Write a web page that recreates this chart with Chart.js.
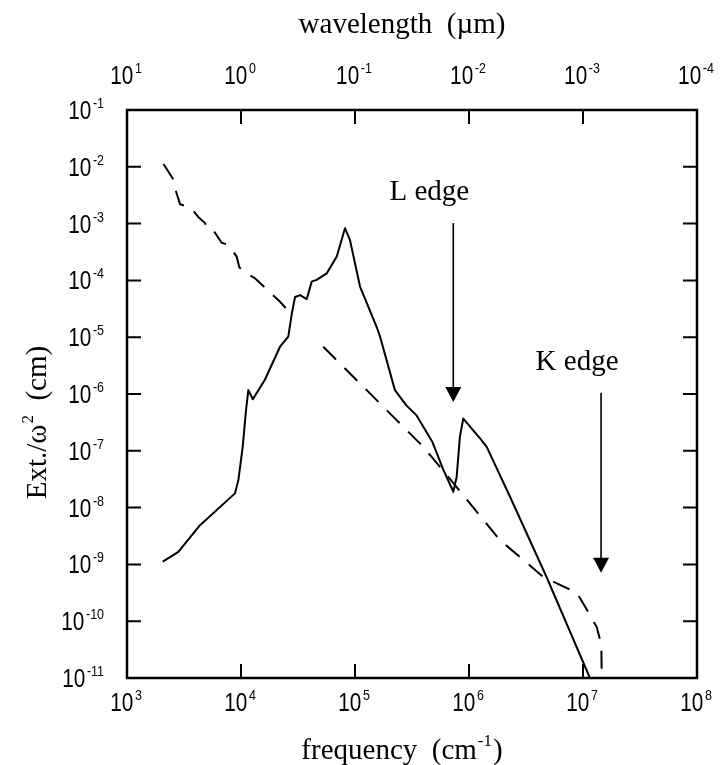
<!DOCTYPE html>
<html>
<head>
<meta charset="utf-8">
<script src="https://cdn.jsdelivr.net/npm/chart.js@4.4.1/dist/chart.umd.min.js"></script>
<style>
  html, body { margin: 0; padding: 0; background: #fff; }
</style>
</head>
<body>
<canvas id="extChart" width="723" height="765"></canvas>
<script>
// Solid curve: frequency (cm^-1) vs Ext./w^2 (cm)
const solidFreq = [2.06e3, 2.82e3, 4.37e3, 8.85e3, 9.5e3, 1.035e4, 1.107e4, 1.16e4, 1.27e4, 1.62e4,
  2.2e4, 2.6e4, 2.79e4, 2.98e4, 3.3e4, 3.77e4, 4.17e4, 4.61e4, 5.65e4, 6.92e4,
  7.48e4, 8.17e4, 9.04e4, 1.107e5, 1.55e5, 1.66e5, 2.24e5, 2.82e5, 3.47e5, 4.79e5,
  5.96e5, 7.29e5, 7.8e5, 8.32e5, 8.91e5, 1.25e6, 1.43e6, 2.29e6, 4.79e6, 1.15e7];
const solidExt = [1.12e-9, 1.66e-9, 4.9e-9, 1.78e-8, 3.1e-8, 1.17e-7, 5.2e-7, 1.17e-6, 8.1e-7, 1.78e-6,
  6.8e-6, 1.02e-5, 2.6e-5, 5.1e-5, 5.5e-5, 4.7e-5, 9.5e-5, 1.02e-4, 1.33e-4, 2.63e-4,
  4.5e-4, 8.3e-4, 5.1e-4, 7.8e-5, 1.51e-5, 1.02e-5, 1.17e-6, 6.3e-7, 4.2e-7, 1.41e-7,
  4.6e-8, 1.9e-8, 3.5e-8, 1.78e-7, 3.7e-7, 1.66e-7, 1.17e-7, 1.55e-8, 6.0e-10, 1e-11];

// Dashed curve (null = break in the line)
const dashFreq = [2.09e3, 2.55e3, 2.7e3, 2.92e3, 3.63e3, 4.23e3, 4.83e3, 5.16e3, 5.89e3, 6.76e3,
  7.76e3, 9.16e3, 9.66e3, 1.06e4, 1.32e4, 1.79e4, 2.2e4, 2.73e4, 3.8e4, 5.27e4,
  3.98e5, 7.29e5, 1.86e6, 4.49e6, 6.71e6, 8.79e6, 1.07e7, 1.32e7, 1.41e7, 1.45e7, 1.46e7];
const dashExt = [1.12e-2, 6.0e-3, 3.6e-3, 2.2e-3, 1.9e-3, 1.3e-3, 1.02e-3, 7.6e-4, 7.0e-4, 4.6e-4,
  4.2e-4, 2.63e-4, 1.7e-4, 1.4e-4, 1.1e-4, 6.2e-5, 4.2e-5, 2.6e-5, null, 6.8e-6,
  1.17e-7, 2.7e-8, 2.7e-9, 6.0e-10, 4.1e-10, 3.2e-10, 1.66e-10, 7.9e-11, 4.7e-11, 3.2e-11, 1e-11];

// Axis decades (exponents)
const freqExp = [3, 4, 5, 6, 7, 8];
const waveExp = [1, 0, -1, -2, -3, -4];
const extExp = [-1, -2, -3, -4, -5, -6, -7, -8, -9, -10, -11];

// Edge markers
const edgeLabels = ['L edge', 'K edge'];
const edgeFreq = [7.28e5, 1.44e7];
const edgeTop = [1.02e-3, 1.05e-6];
const edgeTip = [7.2e-7, 7.1e-10];

const SANS = '"Liberation Sans", Arial, sans-serif';
const SERIF = '"Liberation Serif", "Times New Roman", serif';
const SX = 0.83; // labels are a bit condensed

// draws 10^exp with its left edge at px, baseline at py
function drawPower(ctx, exp, px, py) {
  ctx.save();
  ctx.translate(px, py);
  ctx.scale(SX, 1);
  ctx.font = '25px ' + SANS;
  ctx.fillText('10', 0, 0);
  const wb = ctx.measureText('10').width;
  ctx.font = '15px ' + SANS;
  ctx.fillText(String(exp), wb + 2, -11);
  ctx.restore();
}

function powerWidth(ctx, exp) {
  ctx.save();
  ctx.font = '25px ' + SANS;
  const wb = ctx.measureText('10').width;
  ctx.font = '15px ' + SANS;
  const ws = ctx.measureText(String(exp)).width;
  ctx.restore();
  return (wb + 2 + ws) * SX;
}

const frameAndLabels = {
  id: 'frameAndLabels',
  afterDatasetsDraw(chart) {
    const { ctx, chartArea: a, scales: { x, y } } = chart;
    const tickLen = 14;
    ctx.save();
    ctx.strokeStyle = '#000';
    ctx.fillStyle = '#000';

    // frame
    ctx.lineWidth = 2.5;
    ctx.strokeRect(a.left, a.top, a.right - a.left, a.bottom - a.top);

    // inward ticks
    ctx.lineWidth = 2;
    ctx.beginPath();
    freqExp.slice(1, -1).forEach(e => {
      const px = x.getPixelForValue(10 ** e);
      ctx.moveTo(px, a.bottom); ctx.lineTo(px, a.bottom - tickLen);
      ctx.moveTo(px, a.top); ctx.lineTo(px, a.top + tickLen);
    });
    extExp.slice(1, -1).forEach(e => {
      const py = y.getPixelForValue(10 ** e);
      ctx.moveTo(a.left, py); ctx.lineTo(a.left + tickLen, py);
      ctx.moveTo(a.right, py); ctx.lineTo(a.right - tickLen, py);
    });
    ctx.stroke();

    // tick labels
    ctx.textAlign = 'left';
    ctx.textBaseline = 'alphabetic';
    freqExp.forEach((e, i) => {
      const px = x.getPixelForValue(10 ** e);
      const wb = powerWidth(ctx, e);
      drawPower(ctx, e, px - wb / 2 - 1, a.bottom + 33);
      const ww = powerWidth(ctx, waveExp[i]);
      drawPower(ctx, waveExp[i], px - ww / 2 - 1, a.top - 26);
    });
    extExp.forEach(e => {
      const py = y.getPixelForValue(10 ** e);
      const w = powerWidth(ctx, e);
      drawPower(ctx, e, a.left - 23 - w, py + 9);
    });

    // axis titles
    const cx = (a.left + a.right) / 2 - 10;
    ctx.font = '29px ' + SERIF;
    ctx.textAlign = 'center';
    ctx.fillText('wavelength  (\u00b5m)', cx, 33);

    // frequency (cm^-1)
    ctx.textAlign = 'left';
    const f1 = 'frequency  (cm', f3 = ')';
    ctx.font = '29px ' + SERIF;
    const w1 = ctx.measureText(f1).width, w3 = ctx.measureText(f3).width;
    ctx.font = '17px ' + SERIF;
    const w2 = ctx.measureText('-1').width;
    const fx = cx - (w1 + w2 + w3 + 2) / 2;
    const fy = 759;
    ctx.font = '29px ' + SERIF;
    ctx.fillText(f1, fx, fy);
    ctx.font = '17px ' + SERIF;
    ctx.fillText('-1', fx + w1 + 1, fy - 13);
    ctx.font = '29px ' + SERIF;
    ctx.fillText(f3, fx + w1 + w2 + 2, fy);

    // Ext./w^2 (cm), rotated
    ctx.save();
    ctx.translate(46, 423);
    ctx.rotate(-Math.PI / 2);
    const e1 = 'Ext./\u03c9', e3 = '  (cm)';
    ctx.font = '29px ' + SERIF;
    const we1 = ctx.measureText(e1).width, we3 = ctx.measureText(e3).width;
    ctx.font = '17px ' + SERIF;
    const we2 = ctx.measureText('2').width;
    const ex = -(we1 + we2 + we3) / 2;
    ctx.font = '29px ' + SERIF;
    ctx.fillText(e1, ex, 0);
    ctx.font = '17px ' + SERIF;
    ctx.fillText('2', ex + we1 + 1, -13);
    ctx.font = '29px ' + SERIF;
    ctx.fillText(e3, ex + we1 + we2 + 1, 0);
    ctx.restore();

    // edge arrows
    ctx.lineWidth = 1.6;
    edgeLabels.forEach((label, i) => {
      const px = x.getPixelForValue(edgeFreq[i]);
      const top = y.getPixelForValue(edgeTop[i]);
      const tip = y.getPixelForValue(edgeTip[i]);
      ctx.beginPath();
      ctx.moveTo(px, top);
      ctx.lineTo(px, tip - 14);
      ctx.stroke();
      ctx.beginPath();
      ctx.moveTo(px - 8, tip - 15);
      ctx.lineTo(px + 8, tip - 15);
      ctx.lineTo(px, tip);
      ctx.closePath();
      ctx.fill();
      ctx.font = '29px ' + SERIF;
      ctx.textAlign = 'center';
      ctx.fillText(label, px - 24, top - 23);
    });

    ctx.restore();
  }
};

const solidPoints = solidFreq.map((f, i) => ({ x: f, y: solidExt[i] }));
const dashPoints = dashFreq.map((f, i) => ({ x: f, y: dashExt[i] }));

new Chart(document.getElementById('extChart'), {
  type: 'line',
  data: {
    datasets: [
      {
        data: solidPoints,
        borderColor: '#000',
        borderWidth: 2,
        borderJoinStyle: 'round',
        pointRadius: 0,
        tension: 0,
        fill: false
      },
      {
        data: dashPoints,
        borderColor: '#000',
        borderWidth: 2,
        borderDash: [18, 12],
        pointRadius: 0,
        tension: 0,
        fill: false,
        spanGaps: false
      }
    ]
  },
  options: {
    responsive: false,
    animation: false,
    devicePixelRatio: 1,
    layout: { padding: { left: 127, right: 26, top: 110, bottom: 87 } },
    plugins: {
      legend: { display: false },
      tooltip: { enabled: false }
    },
    scales: {
      x: { type: 'logarithmic', min: 1e3, max: 1e8, display: false },
      y: { type: 'logarithmic', min: 1e-11, max: 1e-1, display: false }
    }
  },
  plugins: [frameAndLabels]
});
</script>
</body>
</html>
